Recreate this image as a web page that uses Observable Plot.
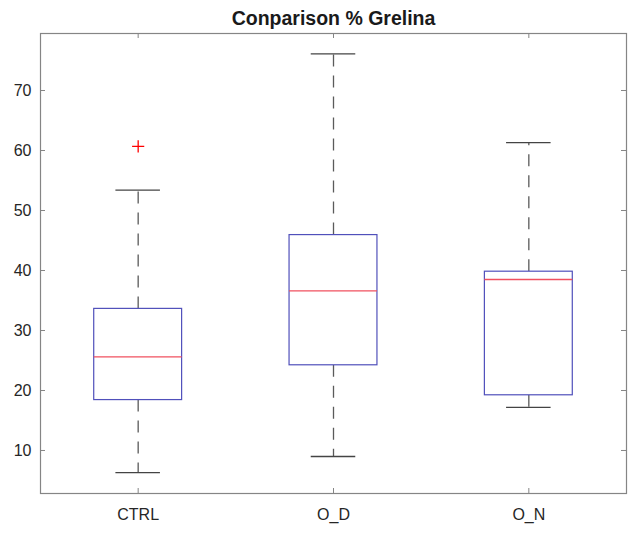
<!DOCTYPE html>
<html>
<head>
<meta charset="utf-8">
<script src="https://cdn.jsdelivr.net/npm/d3@7"></script>
<script src="https://cdn.jsdelivr.net/npm/@observablehq/plot@0.6"></script>
<style>
  html, body { margin: 0; padding: 0; background: #ffffff; }
</style>
</head>
<body>
<script>
// ---- data ----
const categories = ["CTRL", "O_D", "O_N"];
const lowerWhisker = [6.3, 9.0, 17.2];
const q1 = [18.4, 24.2, 19.2];
const median = [25.6, 36.6, 38.5];
const q3 = [33.6, 45.9, 39.8];
const upperWhisker = [53.4, 76.1, 61.3];
const outlierGroup = ["CTRL"];
const outlierValue = [60.7];
const yTicks = [10, 20, 30, 40, 50, 60, 70];
const title = "Conparison % Grelina";

// ---- layout / style ----
const W = 631, H = 533;
const mL = 40, mR = 5, mT = 33, mB = 40;
const plotW = W - mL - mR, plotH = H - mT - mB;
const tickLen = 5;
const boxHalf = 0.225, capHalf = 0.114;
const axisColor = "#858585";
const textColor = "#262626";
const boxColor = "#5050bb";
const medColor = "#f0505f";
const whiskColor = "#5a5a5a";

const rows = categories.map((c, i) => ({
  pos: i + 1, cat: c,
  lo: lowerWhisker[i], q1: q1[i], med: median[i], q3: q3[i], hi: upperWhisker[i]
}));
const outliers = outlierGroup.map((g, i) => ({pos: categories.indexOf(g) + 1, v: outlierValue[i]}));
const xPositions = categories.map((c, i) => i + 1);

const chart = Plot.plot({
  width: W, height: H,
  marginLeft: mL, marginRight: mR, marginTop: mT, marginBottom: mB,
  style: {fontFamily: "'Liberation Sans', Arial, sans-serif", fontSize: "16px", color: textColor, background: "#ffffff"},
  x: {type: "linear", domain: [0.5, 3.5]},
  y: {domain: [2.83, 79.5]},
  marks: [
    Plot.axisY({ticks: yTicks, tickSize: 0, tickPadding: 9, label: null, fontSize: 16}),
    Plot.axisX({ticks: xPositions, tickFormat: d => categories[d - 1], tickSize: 0, tickPadding: 15, label: null, fontSize: 16}),
    // whiskers (dashed)
    Plot.ruleX(rows, {x: "pos", y1: "q3", y2: "hi", stroke: whiskColor, strokeWidth: 1.3, strokeDasharray: "12,9"}),
    Plot.ruleX(rows, {x: "pos", y1: "q1", y2: "lo", stroke: whiskColor, strokeWidth: 1.3, strokeDasharray: "12,9"}),
    // caps
    Plot.ruleY(rows, {y: "hi", x1: d => d.pos - capHalf, x2: d => d.pos + capHalf, stroke: "#444", strokeWidth: 1.3}),
    Plot.ruleY(rows, {y: "lo", x1: d => d.pos - capHalf, x2: d => d.pos + capHalf, stroke: "#444", strokeWidth: 1.3}),
    // boxes
    Plot.rect(rows, {x1: d => d.pos - boxHalf, x2: d => d.pos + boxHalf, y1: "q1", y2: "q3", fill: "white", stroke: boxColor, strokeWidth: 1.2}),
    // medians
    Plot.ruleY(rows, {y: "med", x1: d => d.pos - boxHalf, x2: d => d.pos + boxHalf, stroke: medColor, strokeWidth: 1.3}),
    // outliers
    Plot.dot(outliers, {x: "pos", y: "v", symbol: "plus", r: 4, stroke: "#ff0000", strokeWidth: 1.3}),
    // inward ticks on all four sides
    Plot.tickY(yTicks, {y: d => d, insetRight: plotW - tickLen, stroke: axisColor}),
    Plot.tickY(yTicks, {y: d => d, insetLeft: plotW - tickLen, stroke: axisColor}),
    Plot.tickX(xPositions, {x: d => d, insetTop: plotH - tickLen, stroke: axisColor}),
    Plot.tickX(xPositions, {x: d => d, insetBottom: plotH - tickLen, stroke: axisColor}),
    Plot.frame({stroke: axisColor, strokeWidth: 1.2}),
    // title
    Plot.text([title], {text: d => d, frameAnchor: "top", dy: -9, lineAnchor: "bottom", fontSize: 19.5, fontWeight: "bold", fill: "#1a1a1a"})
  ]
});
document.body.append(chart);
</script>
</body>
</html>
